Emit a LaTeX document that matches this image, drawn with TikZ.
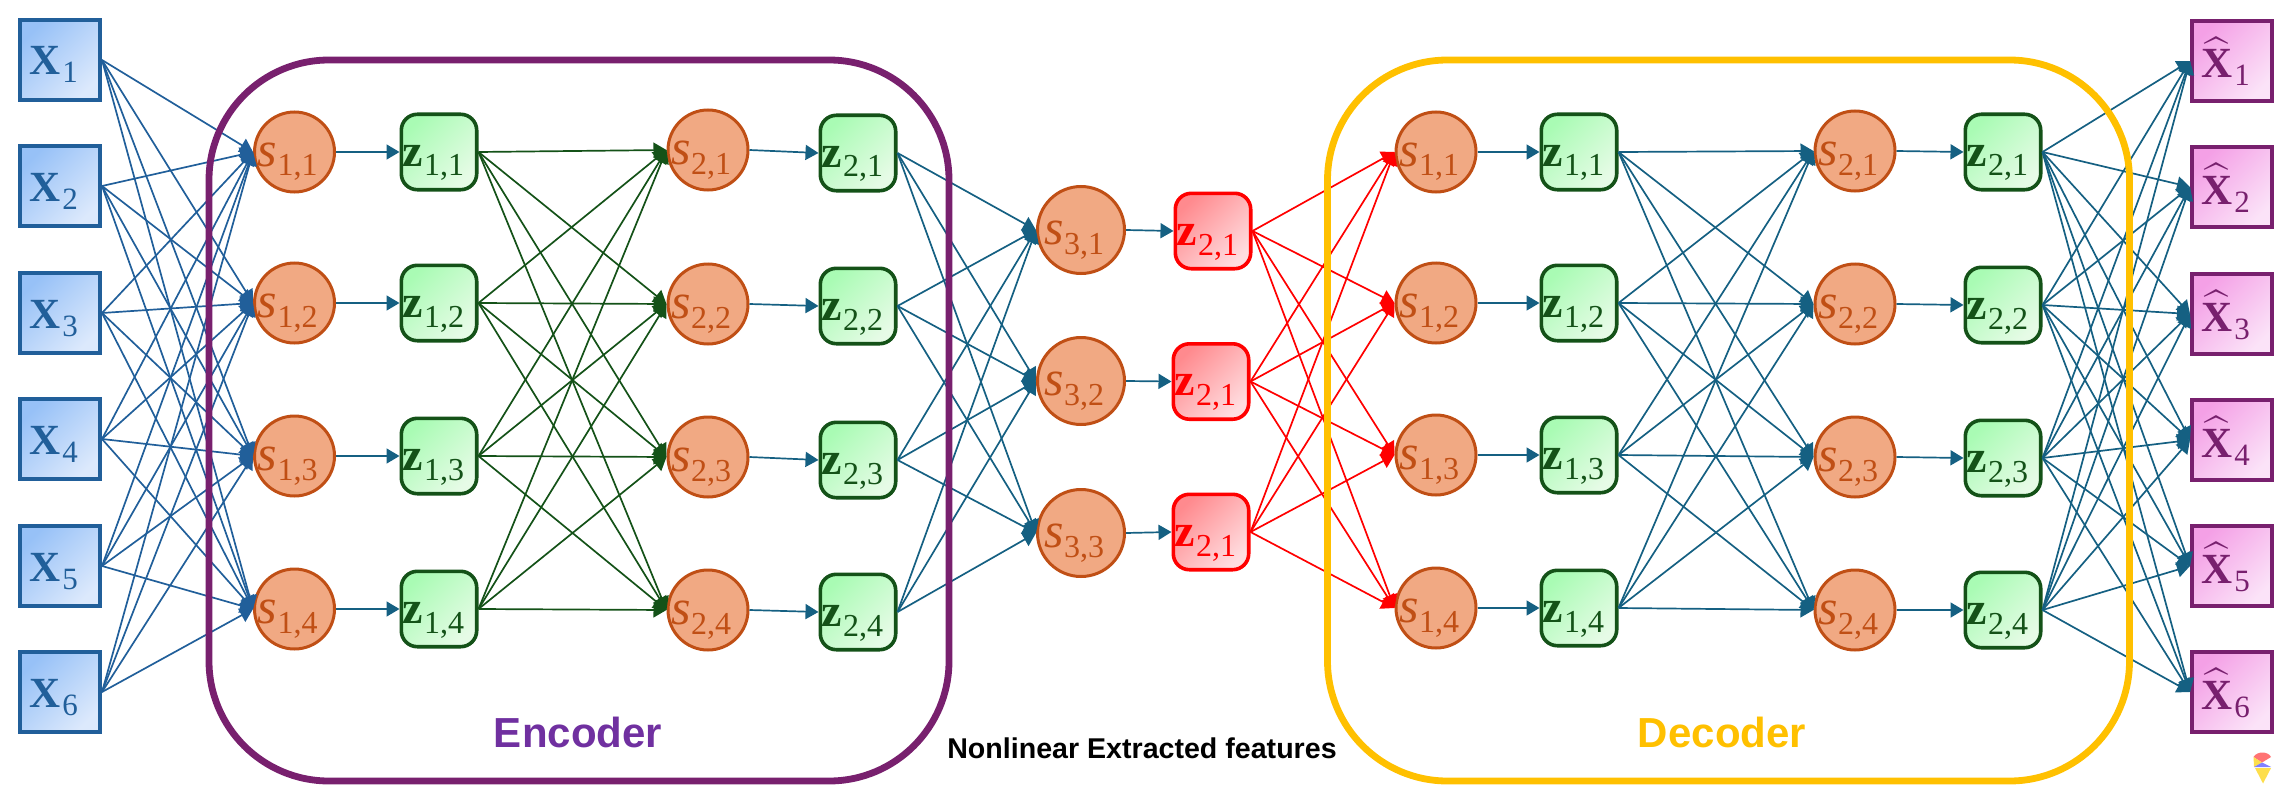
\documentclass[tikz,border=0pt]{standalone}
\usepackage{fontspec}
\usetikzlibrary{arrows.meta}
\newfontfamily\lserif{Liberation Serif}
\newfontfamily\lsans{Liberation Sans}
\definecolor{xstroke}{HTML}{215F9A}
\definecolor{xlight}{HTML}{DCE9FC}
\definecolor{xdark}{HTML}{97C1F7}
\definecolor{gstroke}{HTML}{145218}
\definecolor{glight}{HTML}{E6FBE6}
\definecolor{gdark}{HTML}{A9FBB4}
\definecolor{oranget}{HTML}{C04F15}
\definecolor{orangef}{HTML}{F1A983}
\definecolor{rlight}{HTML}{FFDDE0}
\definecolor{rdark}{HTML}{FF8A8E}
\definecolor{pstroke}{HTML}{78206E}
\definecolor{plight}{HTML}{FBE3F8}
\definecolor{pdark}{HTML}{F4A0E6}
\definecolor{teal}{HTML}{156082}
\definecolor{enctext}{HTML}{7030A0}
\definecolor{gold}{HTML}{FFC000}
\newcommand\slab[2]{\smash{\makebox[0pt][l]{\kern-18.5pt\raisebox{-7pt}{\lserif\itshape\fontsize{25}{25}\selectfont s\kern0.3pt\raisebox{-5pt}{\upshape\fontsize{16}{16}\selectfont #1,#2}}}}}
\newcommand\zlab[2]{\smash{\makebox[0pt][l]{\kern-18.5pt\raisebox{-7pt}{\lserif\bfseries\fontsize{23}{23}\selectfont z\kern0.8pt\raisebox{-5pt}{\mdseries\fontsize{16}{16}\selectfont #1,#2}}}}}
\newcommand\xlab[1]{\smash{\makebox[0pt][l]{\kern-15.5pt\raisebox{-7.5pt}{\lserif\bfseries\fontsize{21.5}{21.5}\selectfont X\kern1.2pt\raisebox{-4pt}{\mdseries\fontsize{15.5}{15.5}\selectfont #1}}}}}
\newcommand\hlab[1]{\smash{\makebox[0pt][l]{\kern-15.5pt\raisebox{-8.5pt}{\scalebox{2.15}{$\widehat{\hbox{\lserif\bfseries\fontsize{10}{10}\selectfont X}}$}\kern1.2pt\raisebox{-4pt}{\lserif\fontsize{15.5}{15.5}\selectfont #1}}}}}
\tikzset{
  x=0.5pt,y=-0.5pt,
  xbox/.style={rectangle,draw=xstroke,line width=2pt,minimum size=40pt,inner sep=0pt,top color=xdark,bottom color=xlight,shading angle=45,text=xstroke},
  hbox/.style={rectangle,draw=pstroke,line width=2pt,minimum size=40pt,inner sep=0pt,top color=pdark,bottom color=plight,shading angle=45,text=pstroke},
  zbox/.style={rectangle,rounded corners=8pt,draw=gstroke,line width=1.8pt,minimum size=37.7pt,inner sep=0pt,top color=gdark,bottom color=glight,shading angle=45,text=gstroke},
  rbox/.style={rectangle,rounded corners=8pt,draw=red,line width=1.8pt,minimum size=37.7pt,inner sep=0pt,top color=rdark,bottom color=rlight,shading angle=45,text=red},
  scirc/.style={circle,draw=oranget,fill=orangef,line width=1.5pt,minimum size=40pt,inner sep=0pt,text=oranget},
  bigcirc/.style={scirc,minimum size=43.5pt},
  conn/.style={line width=0.85pt,-{Triangle[length=6.5pt,width=7.5pt]}},
  frame/.style={rectangle,rounded corners=60pt,line width=3.4pt,minimum height=360.5pt,inner sep=0pt},
  title/.style={inner sep=0pt,anchor=base,font=\lsans\bfseries\fontsize{21}{21}\selectfont},
}
\begin{document}
\begin{tikzpicture}
\useasboundingbox (0,0) rectangle (2290,797);
% input and output boxes
\foreach \i/\y in {1/60,2/186,3/313,4/439,5/566,6/692}
  \node[xbox] (x\i) at (60,\y) {\xlab{\i}};
\foreach \i/\y in {1/61,2/187,3/314,4/440,5/566,6/692}
  \node[hbox] (h\i) at (2232,\y) {\hlab{\i}};
% encoder columns
\foreach \i/\y in {1/152,2/303,3/456,4/609}{
  \node[scirc] (es1\i) at (294.5,\y) {\slab{1}{\i}};
  \node[zbox] (ez1\i) at (439,\y) {\zlab{1}{\i}};
}
\foreach \i/\y/\w in {1/150/153,2/304/306,3/457/460,4/610/612}{
  \node[scirc] (es2\i) at (708,\y) {\slab{2}{\i}};
  \node[zbox] (ez2\i) at (858,\w) {\zlab{2}{\i}};
}
% middle columns
\foreach \i/\y in {1/230,2/381,3/533}{
  \node[bigcirc] (m\i) at (1081,\y) {\slab{3}{\i}};
}
\node[rbox] (r1) at (1213,231) {\zlab{2}{1}};
\node[rbox] (r2) at (1211,381.5) {\zlab{2}{1}};
\node[rbox] (r3) at (1211,532) {\zlab{2}{1}};
% decoder columns
\foreach \i/\y in {1/152,2/303,3/455,4/608}{
  \node[scirc] (ds1\i) at (1436,\y) {\slab{1}{\i}};
  \node[zbox] (dz1\i) at (1579,\y) {\zlab{1}{\i}};
}
\foreach \i/\y/\w in {1/151/152,2/304/305,3/457/458,4/610/610}{
  \node[scirc] (ds2\i) at (1855,\y) {\slab{2}{\i}};
  \node[zbox] (dz2\i) at (2003,\w) {\zlab{2}{\i}};
}
% connectors
\foreach \a in {1,...,6}\foreach \b in {1,...,4}
  \draw[conn,xstroke] (x\a.east) -- (es1\b.west);
\foreach \a in {1,...,4}{
  \draw[conn,teal] (es1\a.east) -- (ez1\a.west);
  \draw[conn,teal] (es2\a.east) -- (ez2\a.west);
  \draw[conn,teal] (ds1\a.east) -- (dz1\a.west);
  \draw[conn,teal] (ds2\a.east) -- (dz2\a.west);
  \foreach \b in {1,...,4}{
    \draw[conn,gstroke] (ez1\a.east) -- (es2\b.west);
    \draw[conn,teal] (dz1\a.east) -- (ds2\b.west);
  }
  \foreach \b in {1,2,3}
    \draw[conn,teal] (ez2\a.east) -- (m\b.west);
  \foreach \b in {1,...,6}
    \draw[conn,teal] (dz2\a.east) -- (h\b.west);
}
\foreach \a in {1,2,3}{
  \draw[conn,teal] (m\a.east) -- (r\a.west);
  \foreach \b in {1,...,4}
    \draw[conn,red] (r\a.east) -- (ds1\b.west);
}
% frames
\node[frame,draw=pstroke,minimum width=370pt] (encoder) at (579,420.5) {};
\node[frame,draw=gold,minimum width=401pt] (decoder) at (1728.5,420.5) {};
% titles
\node[title,text=enctext] (enclabel) at (578,747) {Encoder};
\node[title,text=gold] (declabel) at (1722,747) {Decoder};
\node[title,font=\lsans\bfseries\fontsize{14.3}{14.3}\selectfont,text=black] (midlabel) at (1142,758) {Nonlinear Extracted features};
% small mark, lower right
\fill[red!55!white] (2253.5,757) .. controls (2257,751) and (2268,751) .. (2271,757) -- (2262,762.5) -- cycle;
\fill[yellow!70!orange!70!white] (2253.5,757) -- (2262,762.5) -- (2254,767) -- cycle;
\fill[blue!50!white] (2262,762.5) -- (2271,767) -- (2254,767) -- cycle;
\fill[yellow!70!orange!70!white] (2255,768) -- (2271,768) -- (2263,783.5) -- cycle;
\end{tikzpicture}
\end{document}
